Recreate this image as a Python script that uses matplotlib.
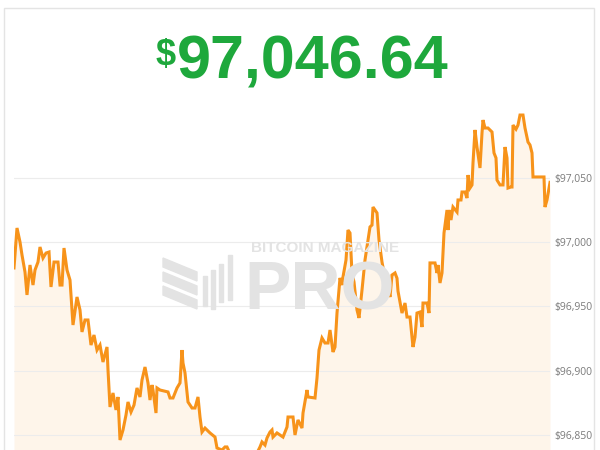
import matplotlib.pyplot as plt
from matplotlib.patches import Rectangle, Polygon

# minutes since start of window, and BTC price (USD)
minutes = [0, 3, 6, 8, 11, 13, 16, 19, 21, 24, 26, 29, 32, 35, 37, 40, 44, 46, 48, 50,
           53, 56, 59, 63, 66, 68, 71, 74, 77, 80, 83, 86, 89, 93, 94, 96, 99, 102, 104, 106,
           109, 112, 114, 117, 120, 123, 126, 128, 131, 134, 136, 138, 139, 142, 143, 146, 154, 156, 159, 163,
           166, 168, 169, 171, 174, 178, 181, 184, 186, 188, 191, 196, 201, 203, 208, 211, 213, 218, 224, 230,
           236, 242, 246, 248, 251, 253, 256, 258, 259, 263, 266, 269, 273, 274, 279, 281, 284, 288, 289, 293,
           294, 301, 303, 305, 308, 311, 314, 316, 319, 321, 323, 326, 328, 329, 332, 334, 336, 338, 340, 343,
           345, 348, 351, 356, 358, 359, 361, 363, 365, 368, 371, 374, 376, 378, 381, 383, 384, 388, 391, 393,
           396, 399, 401, 403, 406, 408, 409, 413, 415, 416, 421, 423, 424, 426, 428, 430, 433, 434, 435, 437,
           439, 443, 444, 447, 448, 451, 453, 454, 456, 458, 459, 461, 463, 466, 468, 469, 471, 474, 478, 480,
           482, 483, 486, 489, 491, 493, 494, 497, 498, 499, 502, 504, 506, 509, 511, 514, 516, 518, 519, 524,
           530, 531, 533, 536]
price = [96980.0, 97011.1, 97000.2, 96990.1, 96976.8, 96959.0, 96982.3, 96966.7, 96978.4, 96984.6,
         96996.3, 96987.7, 96991.6, 96992.4, 96965.2, 96984.6, 96984.6, 96966.7, 96966.7, 96995.5,
         96978.4, 96970.6, 96935.6, 96957.4, 96947.3, 96930.2, 96939.5, 96939.5, 96920.0, 96927.8,
         96916.1, 96920.0, 96906.8, 96918.5, 96900.6, 96871.8, 96882.7, 96869.5, 96879.6, 96846.1,
         96853.9, 96865.6, 96875.7, 96867.9, 96873.3, 96886.6, 96879.6, 96892.8, 96902.9, 96890.5,
         96877.2, 96888.9, 96885.0, 96867.1, 96886.6, 96885.0, 96883.5, 96878.8, 96878.8, 96886.6,
         96890.5, 96916.1, 96906.0, 96898.3, 96875.7, 96871.0, 96871.0, 96879.6, 96864.0, 96852.3,
         96855.4, 96851.6, 96848.4, 96839.9, 96838.3, 96840.7, 96840.7, 96832.1, 96829.0, 96834.4,
         96830.5, 96834.4, 96840.7, 96844.6, 96842.2, 96847.7, 96852.3, 96853.9, 96848.4, 96851.6,
         96850.0, 96848.4, 96856.2, 96864.0, 96864.0, 96850.0, 96861.7, 96855.4, 96867.1, 96885.0,
         96879.6, 96878.8, 96894.4, 96916.1, 96925.5, 96921.6, 96921.6, 96931.7, 96914.6, 96918.5,
         96944.9, 96972.2, 96966.7, 96973.0, 96986.2, 97009.5, 97007.2, 96976.1, 96969.1, 96947.3,
         96941.1, 96962.8, 96986.2, 97011.9, 97013.4, 97027.4, 97025.1, 97022.8, 97001.8, 96984.6,
         96972.2, 96964.4, 96957.4, 96974.5, 96976.1, 96972.0, 96962.0, 96944.9, 96952.7, 96941.8,
         96941.8, 96918.5, 96926.3, 96944.9, 96945.7, 96934.0, 96952.7, 96952.7, 96944.9, 96983.9,
         96983.9, 96976.1, 96982.3, 96968.3, 96976.1, 97007.2, 97025.1, 97009.5, 97025.1, 97017.3,
         97027.4, 97023.5, 97032.9, 97032.9, 97039.1, 97039.1, 97034.4, 97052.3, 97042.2, 97044.6,
         97061.7, 97087.4, 97074.1, 97057.8, 97085.0, 97095.1, 97088.9, 97088.9, 97085.8, 97069.5,
         97065.6, 97048.4, 97044.6, 97044.6, 97074.1, 97065.6, 97042.2, 97043.0, 97043.0, 97091.2,
         97088.0, 97091.2, 97099.0, 97099.0, 97088.9, 97078.0, 97075.7, 97069.5, 97050.8, 97050.8,
         97050.8, 97027.4, 97032.9, 97046.6]
tick_vals = [96850, 96900, 96950, 97000, 97050]
tick_labels = ['$96,850', '$96,900', '$96,950', '$97,000', '$97,050']
current = '97,046.64'

W, H = 600, 450
fig = plt.figure(figsize=(6, 4.5), dpi=100)
fig.patch.set_facecolor('white')

# card border
fig.patches.append(Rectangle((4 / W, -0.1), 590 / W, 1.1 - 8 / H, transform=fig.transFigure,
                             fill=False, edgecolor='#e4e4e4', linewidth=1))

# big price header
green = '#1ea83c'
fig.text(176 / W, 1 - 38 / H, '$', fontsize=26, fontweight='bold', color=green,
         family='Liberation Sans', ha='right', va='top')
fig.text(177 / W, 1 - 78 / H, current, fontsize=44, fontweight='bold', color=green,
         family='Liberation Sans', ha='left', va='baseline')

ylo, yhi = 96822.76, 97110.70
ax = fig.add_axes([14 / W, -20 / H, 536 / W, 370 / H])
ax.set_facecolor('none')
ax.fill_between(minutes, price, ylo, color='#fef5ea', linewidth=0, zorder=1)
ax.plot(minutes, price, color='#f7931a', linewidth=2.2, solid_joinstyle='miter', zorder=4)
ax.set_xlim(0, 536)
ax.set_ylim(ylo, yhi)
ax.set_yticks(tick_vals)
ax.set_yticklabels(tick_labels)
ax.yaxis.tick_right()
ax.tick_params(axis='y', length=0, pad=3, labelsize=7.5, labelcolor='#7a7a7a')
for lab in ax.get_yticklabels():
    lab.set_family('Open Sans')
ax.set_xticks([])
ax.grid(axis='y', color='#ececec', linewidth=0.8, zorder=0)
for s in ax.spines.values():
    s.set_visible(False)

# watermark
wm = '#e3e3e3'
fig.text(325 / W, 1 - 248 / H, 'BITCOIN MAGAZINE', fontsize=11, fontweight='bold', color=wm,
         family='Liberation Sans', ha='center', va='center', zorder=2)
fig.text(320 / W, 1 - 309 / H, 'PRO', fontsize=50, fontweight='bold', color=wm,
         family='Liberation Sans', ha='center', va='baseline', zorder=2)
for i in range(3):
    y0 = 258 + i * 14
    pts = [(163, y0), (197, y0 + 14), (197, y0 + 23), (163, y0 + 9)]
    fig.patches.append(Polygon([(x / W, 1 - y / H) for x, y in pts], closed=True,
                               transform=fig.transFigure, color=wm, zorder=2))
for x, top, bot in [(203, 276, 306), (211, 270, 309), (219, 264, 302), (228, 255, 300)]:
    fig.patches.append(Rectangle((x / W, 1 - bot / H), 4 / W, (bot - top) / H,
                                 transform=fig.transFigure, color=wm, zorder=2))

fig.savefig('out.png', dpi=100)
